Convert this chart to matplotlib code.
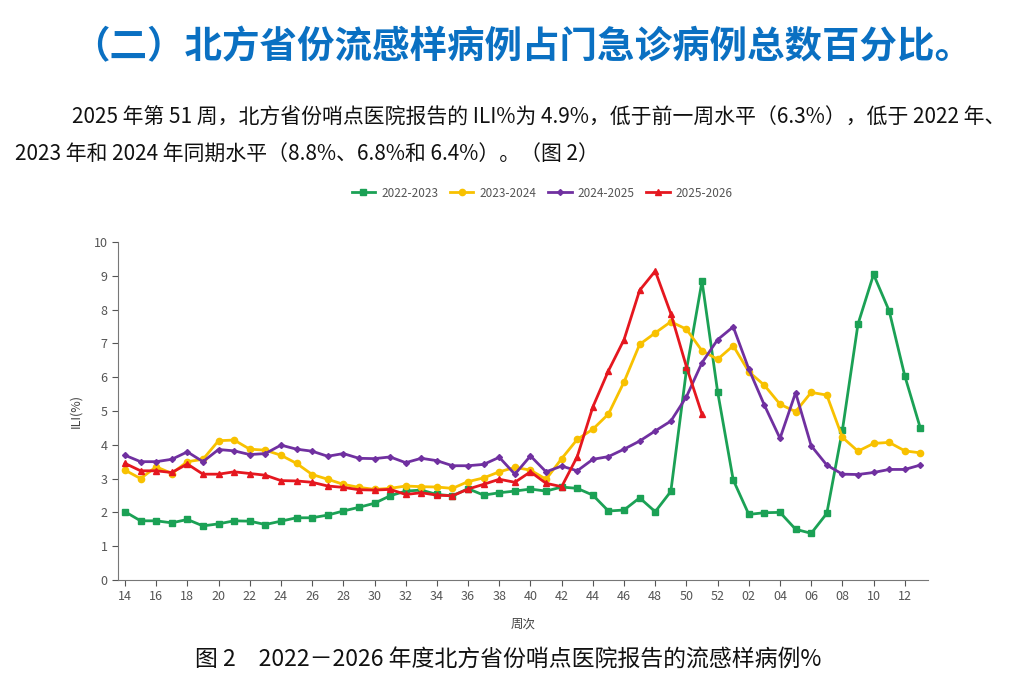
import numpy as np
from matplotlib import pyplot as plt

plt.rcParams['font.family'] = ['Noto Sans CJK SC', 'DejaVu Sans']

# 周次: 14..52, 01..13
weeks = [str(w) for w in range(14, 53)] + ['%02d' % w for w in range(1, 14)]

s2022 = [2.02, 1.75, 1.75, 1.69, 1.79, 1.60, 1.66, 1.75, 1.74, 1.64,
         1.74, 1.84, 1.84, 1.92, 2.04, 2.15, 2.27, 2.49, 2.63, 2.66,
         2.53, 2.49, 2.70, 2.51, 2.58, 2.63, 2.69, 2.63, 2.75, 2.71,
         2.51, 2.04, 2.07, 2.43, 2.02, 2.62, 6.21, 8.84, 5.57, 2.96,
         1.94, 1.99, 2.00, 1.50, 1.38, 1.97, 4.43, 7.57, 9.04, 7.96,
         6.04, 4.49]
s2023 = [3.25, 3.00, 3.35, 3.15, 3.50, 3.57, 4.12, 4.14, 3.87, 3.84,
         3.69, 3.45, 3.12, 2.98, 2.83, 2.74, 2.68, 2.71, 2.78, 2.76,
         2.75, 2.71, 2.91, 3.02, 3.20, 3.33, 3.25, 2.98, 3.59, 4.16,
         4.46, 4.91, 5.86, 6.97, 7.31, 7.64, 7.42, 6.78, 6.53, 6.93,
         6.16, 5.76, 5.20, 4.98, 5.55, 5.47, 4.22, 3.81, 4.04, 4.07,
         3.82, 3.76]
s2024 = [3.69, 3.50, 3.50, 3.57, 3.79, 3.50, 3.86, 3.82, 3.71, 3.74,
         3.99, 3.87, 3.81, 3.66, 3.74, 3.60, 3.59, 3.64, 3.47, 3.60,
         3.53, 3.38, 3.38, 3.42, 3.63, 3.13, 3.67, 3.20, 3.37, 3.23,
         3.57, 3.65, 3.87, 4.11, 4.41, 4.70, 5.42, 6.43, 7.11, 7.49,
         6.24, 5.17, 4.19, 5.54, 3.97, 3.40, 3.13, 3.12, 3.18, 3.27,
         3.27, 3.40]
s2025 = [3.45, 3.23, 3.23, 3.18, 3.43, 3.13, 3.13, 3.20, 3.15, 3.10,
         2.94, 2.93, 2.89, 2.78, 2.74, 2.67, 2.66, 2.68, 2.53, 2.58,
         2.51, 2.49, 2.69, 2.83, 2.98, 2.89, 3.20, 2.86, 2.76, 3.65,
         5.12, 6.19, 7.11, 8.57, 9.14, 7.88, 6.31, 4.90]

fig = plt.figure(figsize=(10.23, 6.82), dpi=100)
ax = fig.add_axes([0.1153, 0.1496, 0.792, 0.4956])

x = np.arange(len(weeks))
ax.plot(x, s2022, color='#1BA155', marker='s', markersize=5, lw=2, label='2022-2023')
ax.plot(x, s2023, color='#F8C100', marker='o', markersize=4.5, lw=2, label='2023-2024')
ax.plot(x, s2024, color='#7030A0', marker='D', markersize=3, lw=2, label='2024-2025')
ax.plot(np.arange(len(s2025)), s2025, color='#E5171F', marker='^', markersize=4, lw=2, label='2025-2026')

ax.set_xlim(-0.45, 51.5)
ax.set_ylim(0, 10)
ax.set_yticks(range(0, 11))
ax.set_xticks(x[::2])
ax.set_xticklabels(weeks[::2])
ax.tick_params(colors='#555555', labelsize=9, length=4, width=0.8)
for s in ['top', 'right']:
    ax.spines[s].set_visible(False)
for s in ['left', 'bottom']:
    ax.spines[s].set_color('#777777')
ax.set_ylabel('ILI(%)', fontsize=9, color='#444444', labelpad=8)
ax.set_xlabel('周次', fontsize=9, color='#444444', labelpad=10)

fig.legend(loc='center', bbox_to_anchor=(0.53, 0.717), ncol=4, frameon=False,
           fontsize=8.5, labelcolor='#555555', handlelength=2, columnspacing=1.0,
           handletextpad=0.5)

fig.text(0.51, 1 - 47 / 682, '（二）北方省份流感样病例占门急诊病例总数百分比。',
         ha='center', va='center', fontsize=27, fontweight='bold', color='#0A70C2')
fig.text(72 / 1023, 1 - 118 / 682,
         '2025 年第 51 周，北方省份哨点医院报告的 ILI%为 4.9%，低于前一周水平（6.3%），低于 2022 年、',
         ha='left', va='center', fontsize=15, color='#111111')
fig.text(15 / 1023, 1 - 155 / 682,
         '2023 年和 2024 年同期水平（8.8%、6.8%和 6.4%）。（图 2）',
         ha='left', va='center', fontsize=15, color='#111111')
fig.text(0.497, 1 - 660 / 682, '图 2　2022－2026 年度北方省份哨点医院报告的流感样病例%',
         ha='center', va='center', fontsize=16.5, color='#111111')

plt.savefig('out.png', dpi=100)
